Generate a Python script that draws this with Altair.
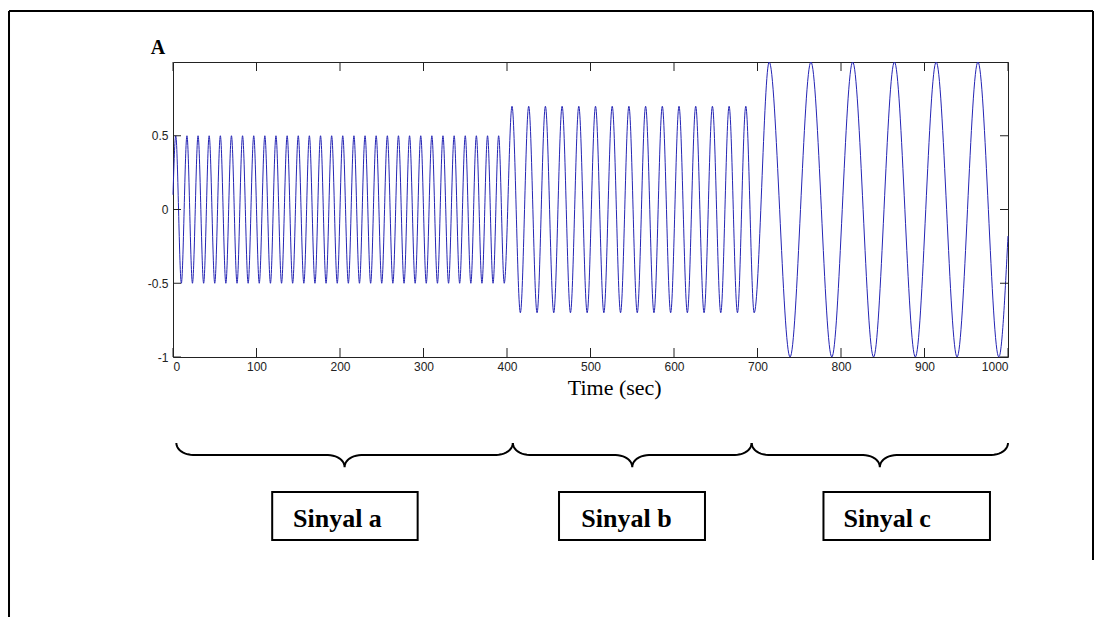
import math
import altair as alt
import pandas as pd

# ---------------- data ----------------
seg_amp = [0.5, 0.7, 1.0]          # amplitude of signals a, b, c
start_point = [0, 0.1]
end_point = [1000, -0.18]

a_peaks = [3.3, 16.7, 30.0, 43.3, 56.7, 70.0, 83.3, 96.7, 110.0, 123.3,
           136.7, 150.0, 163.3, 176.7, 190.0, 203.3, 216.7, 230.0, 243.3, 256.7,
           270.0, 283.3, 296.7, 310.0, 323.3, 336.7, 350.0, 363.3, 376.7, 390.0]
a_troughs = [10.0, 23.3, 36.7, 50.0, 63.3, 76.7, 90.0, 103.3, 116.7, 130.0,
             143.3, 156.7, 170.0, 183.3, 196.7, 210.0, 223.3, 236.7, 250.0, 263.3,
             276.7, 290.0, 303.3, 316.7, 330.0, 343.3, 356.7, 370.0, 383.3, 396.7]
b_peaks = [406, 426, 446, 466, 486, 506, 526, 546, 566, 586, 606, 626, 646, 666, 686]
b_troughs = [416, 436, 456, 476, 496, 516, 536, 556, 576, 596, 616, 636, 656, 676, 696]
c_peaks = [714, 764, 814, 864, 914, 964]
c_troughs = [739, 789, 839, 889, 939, 989]

x_ticks = [0, 100, 200, 300, 400, 500, 600, 700, 800, 900, 1000]
y_ticks = [-1, -0.5, 0, 0.5]

x_title = "Time (sec)"
panel_label = "A"
box_labels = ["Sinyal a", "Sinyal b", "Sinyal c"]

# ---------------- build the signal table ----------------
rows = [start_point]
for amp, peaks, troughs in zip(seg_amp, [a_peaks, b_peaks, c_peaks],
                               [a_troughs, b_troughs, c_troughs]):
    rows += [[t, amp] for t in peaks] + [[t, -amp] for t in troughs]
rows.append(end_point)
sig = pd.DataFrame(rows, columns=["t", "v"]).sort_values("t")

# ---------------- annotation geometry (data units) ----------------
brace_spans = [(4, 407), (407, 693), (693, 1000)]
brace_top, brace_line, brace_tip = -1.583, -1.664, -1.746
brace_rx = 20
box_spans = [(118.8, 293.0), (462.3, 637.1), (779.0, 978.4)]
box_text_x = [143.7, 489.0, 803.0]
box_top, box_bottom, box_text_y = -1.915, -2.24, -2.153

brace_rows = []
n_arc = 10
for b, (x0, x1) in enumerate(brace_spans):
    xm = (x0 + x1) / 2
    ry = brace_top - brace_line
    left = []
    for i in range(n_arc + 1):
        th = math.pi / 2 * i / n_arc
        left.append((x0 + brace_rx - brace_rx * math.cos(th), brace_top - ry * math.sin(th)))
    for i in range(n_arc + 1):
        th = math.pi / 2 * i / n_arc
        left.append((xm - brace_rx + brace_rx * math.sin(th), brace_tip + ry * math.cos(th)))
    right = [(2 * xm - x, y) for (x, y) in reversed(left[:-1])]
    for k, (x, y) in enumerate(left + right):
        brace_rows.append({"t": x, "v": y, "brace": b, "o": k})
braces = pd.DataFrame(brace_rows)

boxes = pd.DataFrame({
    "t": [s[0] for s in box_spans], "t2": [s[1] for s in box_spans],
    "v": [box_top] * 3, "v2": [box_bottom] * 3,
})
box_text = pd.DataFrame({"t": box_text_x, "v": [box_text_y] * 3, "label": box_labels})

frame = pd.DataFrame({
    "t": [-196.4, -196.4, 1101.8], "t2": [-196.4, 1101.8, 1101.8],
    "v": [1.346, 1.346, 1.346], "v2": [-2.82, 1.346, -2.376],
})
title_text = pd.DataFrame({"t": [529], "v": [-1.2576], "label": [x_title]})
panel_text = pd.DataFrame({"t": [-18], "v": [1.095], "label": [panel_label]})

# ---------------- encodings ----------------
tick_font = "Liberation Sans Narrow, Liberation Sans, Arial"
x_enc = alt.X("t:Q", scale=alt.Scale(domain=[0, 1000], nice=False, zero=False),
              axis=alt.Axis(values=x_ticks, title=None, ticks=False, domain=False, grid=False,
                            labelFont=tick_font, labelFontSize=12, labelColor="#222",
                            labelPadding=4, format="d"))
y_enc = alt.Y("v:Q", scale=alt.Scale(domain=[-1, 1], nice=False, zero=False),
              axis=alt.Axis(values=y_ticks, title=None, ticks=False, domain=False, grid=False,
                            labelFont=tick_font, labelFontSize=12, labelColor="#222",
                            labelPadding=5,
                            labelExpr="(datum.value < 0 ? '-' : '') + format(abs(datum.value), '')"))

line = alt.Chart(sig).mark_line(color="#2424b4", strokeWidth=1, interpolate="monotone").encode(
    x=x_enc, y=y_enc)

xt = pd.DataFrame({"t": x_ticks})
yt = pd.DataFrame({"v": y_ticks})
tick_bot = alt.Chart(xt).mark_rule(color="#222").encode(x=x_enc, y=alt.value(295), y2=alt.value(286))
tick_top = alt.Chart(xt).mark_rule(color="#222").encode(x=x_enc, y=alt.value(0), y2=alt.value(9))
tick_l = alt.Chart(yt).mark_rule(color="#222").encode(y=y_enc, x=alt.value(0), x2=alt.value(8))
tick_r = alt.Chart(yt).mark_rule(color="#222").encode(y=y_enc, x=alt.value(835), x2=alt.value(827))

brace_layer = alt.Chart(braces).mark_line(color="black", strokeWidth=2).encode(
    x=x_enc, y=y_enc, detail="brace:N", order="o:Q")
box_layer = alt.Chart(boxes).mark_rect(fill="white", stroke="black", strokeWidth=2).encode(
    x=x_enc, x2="t2", y=y_enc, y2="v2")
box_text_layer = alt.Chart(box_text).mark_text(
    font="Liberation Serif", fontWeight="bold", fontSize=26, align="left", baseline="alphabetic",
    color="black").encode(x=x_enc, y=y_enc, text="label:N")
frame_layer = alt.Chart(frame).mark_rule(color="black", strokeWidth=2).encode(
    x=x_enc, x2="t2", y=y_enc, y2="v2")
title_layer = alt.Chart(title_text).mark_text(
    font="Liberation Serif", fontSize=22, align="center", baseline="alphabetic", color="black").encode(
    x=x_enc, y=y_enc, text="label:N")
panel_layer = alt.Chart(panel_text).mark_text(
    font="Liberation Serif", fontSize=20, fontWeight="bold", align="center", baseline="middle",
    color="black").encode(x=x_enc, y=y_enc, text="label:N")

chart = alt.layer(
    frame_layer, line, tick_bot, tick_top, tick_l, tick_r,
    brace_layer, box_layer, box_text_layer, title_layer, panel_layer
).properties(
    width=835, height=295, autosize="none",
    padding={"left": 165, "top": 54, "right": 90, "bottom": 260},
    background="white",
).configure_view(stroke="#222", strokeWidth=1)

chart.save("out.html", embed_options={"renderer": "svg", "actions": False})
